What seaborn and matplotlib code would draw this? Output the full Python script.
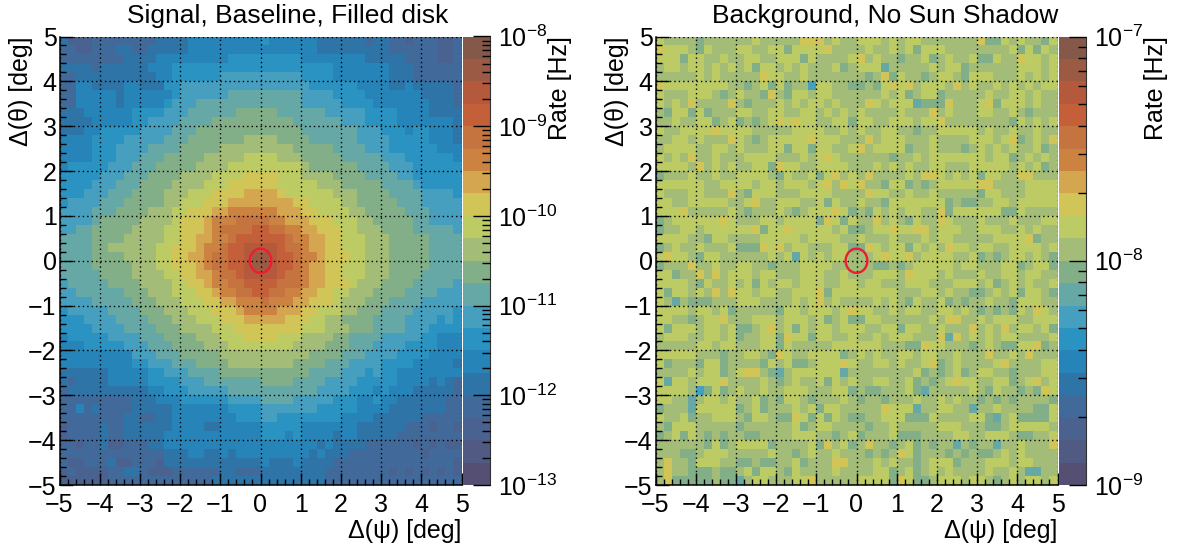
import numpy as np
import seaborn as sns
import matplotlib.pyplot as plt
from matplotlib.colors import ListedColormap, LogNorm
from matplotlib.patches import Circle
from matplotlib.ticker import NullFormatter

# colour band index of every cell, top row first (0-9, a-j = band 0-19 of the z scale)
signal_rows = [
    "42223 33333 33444 45555 55555 65555 55444 44434 43323 33223",
    "33223 33443 34444 45555 55555 55555 55444 44444 43333 33223",
    "33333 33344 44555 55555 56666 66666 55555 55544 44433 33223",
    "44443 44444 45556 66666 66666 66666 66665 55555 54443 33333",
    "33444 44444 44556 66666 77777 77777 66665 55555 54443 33333",
    "33554 44455 44466 77777 77777 77777 76666 66555 54454 44443",
    "33555 55455 55556 77777 78888 88888 77776 66655 55555 44443",
    "33555 55455 55567 77888 88888 88888 77777 66665 55555 54443",
    "44455 55556 66677 78888 88999 99888 88877 77766 66555 54444",
    "44445 55556 67777 88889 99999 99998 88888 77766 66555 55554",
    "44455 66666 77778 88999 99999 99999 88888 88777 66656 65554",
    "55556 66677 77788 89999 999aa aa999 98888 88777 76666 65554",
    "55556 66777 78888 99999 aaaaa aaaa9 99998 88877 76666 66555",
    "55556 66777 88899 999aa aaabb bbaaa 99999 88888 77766 66665",
    "56666 67778 88999 99aaa abbbb bbbbb a9999 99888 87776 66666",
    "66666 77788 89999 aaaab bbbcc ccbbb aaaa9 99988 88776 66666",
    "66667 77888 9999a aaabb bcccc ccbbb bbaaa 99999 88887 66666",
    "66677 78889 999aa abbbc cccdd ddcbb bbbba aa999 98888 77776",
    "67777 88899 999aa bbbcc cdddd ddddc cbbbb aa999 99888 77777",
    "77778 88999 9aaab bcccd deeee eeddd ccbbb baa99 99988 87777",
    "77778 99999 aaaab cccde eefff feedd dcccb bbaa9 99998 87777",
    "77889 9999a aaabb cccde ffffg gffee ddccc bbaaa 99998 88887",
    "88889 999aa aaabb ccdde efggg gggfe eddcc bbbaa a9999 98888",
    "88889 9aaaa aabbc ccdee fgghh hhgff eddcc bbbaa a9999 98888",
    "88889 999aa aabbc cddef fgghi ihggf eedcc cbbaa a9999 98888",
    "88889 9999a aabbc ccdef fgghi ihggf eddcc bbbaa a9999 98888",
    "88888 9999a aaabb ccdde ffghh hhgff eddcc bbbaa a9999 88888",
    "78888 89999 aaaab bccde effgg ggfff eddcc cbaaa 99998 88887",
    "77888 88899 9aaab bbccd eeffg gffee ddccb baaa9 99988 88777",
    "77778 88889 99aaa bbbcc ddeee feeed dcccb aaa99 98888 77777",
    "67777 78888 999aa abbbc ccdee eeddd ccbbb aa999 88887 77776",
    "66677 77888 8999a aabbb cccdd dddcc cbbaa 99998 88877 77676",
    "66667 77788 88999 aaaab bbccc ccccc bbbaa a9998 88877 76666",
    "56666 67777 88899 99aaa bbbcc ccbbb aaaa9 98888 77777 66555",
    "55566 66677 78889 999aa abbbb bbbba aaa99 98887 77766 66555",
    "55555 55557 77888 99999 aaaaa aaaaa a9999 88877 77666 65555",
    "55555 55556 67778 88999 9aaaa aaaa9 99988 87777 66665 55554",
    "44444 45555 56677 78888 99999 99999 98888 77767 66555 55555",
    "43444 45555 56666 77788 88888 99998 88877 77666 66555 54543",
    "34444 44444 45566 67777 78888 88888 88777 76665 65554 44443",
    "33333 33334 44555 66666 67777 88887 77776 66556 55444 44433",
    "33534 33334 44445 55555 56666 77777 77666 66555 54444 44433",
    "33333 33344 33445 55555 55666 77666 66666 55554 44444 33333",
    "23333 43344 44445 55544 55555 66666 55555 55444 44433 32332",
    "23333 43344 44455 55555 55555 66656 55554 55444 44333 33333",
    "33233 42233 34455 55555 55555 55555 55454 44433 33332 32322",
    "33333 33333 33344 45544 54555 55555 54544 43333 33333 23333",
    "32233 34223 33244 44444 44444 54445 44443 33333 33333 33332",
    "23222 23344 32223 33333 44333 44444 44433 33333 32323 23232",
    "22222 23333 33333 33334 44444 44444 44433 33333 33333 33333",
]

background_rows = [
    "baaaa 9aaaa aabaa aaacc cabaa bbbab abbaa aaaaa c99ba baa9b",
    "cbbba 9baaa bbaab b9bbb bcaaa abaab ab9bb baaaa aaaab 9b9ba",
    "bbb9b baaba abbaa bbb9b aaaab cabaa 9aab9 abaab 99baa cbbab",
    "abbab babab ab9bb ababa aab9a bbb8a aaaab abb9a aaaaa bbbab",
    "aaaaa babaa aaacb baaba aaaaa a9ac9 baa9a bba9b bbaaa babab",
    "cbbbb bbbba a9ab9 b9aa7 bbaa9 9a9bc bcabb bacab aabab ababb",
    "baaab bba9a baa9c a9bba bbaaa aaaba b9abb 9aaaa abaab babaa",
    "babac aaaac a9aaa babab babaa acbab bb899 9caaa bc9bb babaa",
    "a9bb9 b9aaa bbaab baabb ababa baaaa baaac abaaa bbaab a9aaa",
    "aabaa bb9ab 9a9ab cbcbb aabb9 bbaab bbabb caaaa aaaa9 babab",
    "baabb bbcbb bbaaa aabbb baaba baabb aa9aa bbbbb abaab aabaa",
    "aabba baaac ba9ab bbbbc bbbaa acabb baaab aaaab bbabc 9abac",
    "abbbb aabba baaab b9bb9 bbaab cabbb b9aab aaa9a babab aab9a",
    "babac aabaa abbbb aaaba bcbaa aaaa9 aabab bbbbb babb9 ababa",
    "bbbba cabab aabb9 cbbaa bbbba aabab abaab baaab bbbba bab9a",
    "9aaab aabaa bbbba 9baab 9bcab acaaa abacc babab 9bbaa ccaaa",
    "bbbbb baabb bbabb abbba bcacb caa9b b9a9a bbbbb ccaaa abbbb",
    "baaab baaac a9bbb aaabb bbaaa acbba abaab aaaaa 9bbaa abbbb",
    "bbaab bbbba abcaa bbbaa b9baa baa9b bbbbb b9a99 aabba bbbbb",
    "bbbca aaaab a9aaa ba9ab bbcb9 a9bab abbaa c9bbb bbb99 baaaa",
    "9abbb bbbcb aaabb abbbb 9cb9b aacab a9baa cbaaa baaab aaabb",
    "9aabb abbbb bbc9b bcbbb bbab9 9abbc bbcca bbbaa bbbaa babaa",
    "bbbba a9bba aaabb bbbab bbbaa baaab aaaba bbaaa aabbb bc9aa",
    "9abaa baaab 999cb cabba aabb9 9cbab b9bab acbba bbaab bbbab",
    "bcbba 9bbaa aaaab ab8ba babba aabcb bcabb bbaab 9a9ab baba9",
    "9aaac aabaa bbaa9 aaabb bbaaa aa99a 9abbb bbabb aaabb 9abb9",
    "bb9aa cacab bbabb aaabb baaba aabbb acbbb abaaa baabb abbaa",
    "bbbba 9baab ab9ba bbabb baabb abbaa abbba aabbb ab9ab abaab",
    "b9bba bacac bbabb aabbb c9bbb bbbbb aaabb abaa9 9abab 9bba9",
    "ba8a9 99aaa bbbaa aabab cabaa aabab a9baa b9a9a abaa9 bbbaa",
    "bbbba bbab9 aaaaa 9bbab bbabc bbaab abbaa bbaba 9a9a9 bacba",
    "bbaa9 abbca aabbb abbba b9ab9 9bbaa aaaab accaa babbb aabbb",
    "b9bbb abbab 99abc ab9ba bbabb baabb 9bbaa baaac abaca bbab9",
    "abbba abbab 9aabb 9cbb9 bbaab aabab bbaaa c8cab ababb aaaab",
    "aaaaa bbabb aaabb 9baaa aabbb bbbaa a99cb baaa9 aba99 bbc9a",
    "bbbbb aaa9a abba9 cbaab bbb9a babaa bbabb aabaa acaab acaaa",
    "b9aaa 9bb9a aaa9b ab99a bbbcb aabba baabc 9abaa aabca aaabb",
    "aaaab abb9a bcca9 8abbb bbb8a aaaaa aab9a 9ab9a bbaa9 aaabb",
    "b8bba bbbca aaaba 9abaa b9bab aabba ab9a9 abcbb aabb9 abcab",
    "bbbba 79b9a baaba abbba aabb9 a99aa ab98a aaaab a9baa 9a9cb",
    "bbaa8 abbab aab9a 9bba9 aaaba 9aa9a aabaa babaa 9a9a9 aaaa9",
    "9aaa8 bbbbb 9ab9a aabab 9bbaa aaacb bb8aa bbaa8 aabaa aa99b",
    "baab9 aabbb a9bba 99cb9 b9ba9 9aabb b999b aaaab b98ab 9999b",
    "a9bbb aaaaa 9aaaa aab9a bbaaa a9aab aaaaa bbbaa a99ab bbbba",
    "9ab9b a9a9a a99aa aabbb aa9ab 9aaab 999aa aabba abbba 99aab",
    "aaaaa a9b9a bbbb9 aaaab 9cab9 acaa9 ab9a9 aa8a9 aa8aa baaac",
    "aaa99 abbba aaaab aa9ab aabaa a9a9a cb9aa a9a9a 99aba baaaa",
    "acaa9 bbbaa 99a99 aab9a aacca aabab aa9ab bb9aa abbba bbaaa",
    "acaa9 99a99 ab9bb a9baa aabaa aabb9 ab9ab abaaa abaab a88aa",
    "ac999 99a99 8abba aabbc aaaaa bbbb9 cb99a bbbab ba9ab abbab",
]

band_colors = ["#544f73", "#505a83", "#4a6290", "#416a9b", "#2f74a7", "#2684b8", "#2b93c2",
               "#479fc0", "#66a8a5", "#82af87", "#a3bd78", "#bccb63", "#d0c556", "#d3a64f",
               "#cc8240", "#c6743f", "#c3603a", "#b5593d", "#9a5a44", "#85594a"]

deg_labels = ["\u22125", "\u22124", "\u22123", "\u22122", "\u22121", "0", "1", "2", "3", "4", "5"]
titles = ["Signal, Baseline, Filled disk", "Background, No Sun Shadow"]
title_x = [0.568, 0.571]
rate_range = [(-13, -8), (-9, -7)]
sun_radius_deg = 0.27

W, H = 1181, 545
sns.set_style("ticks", {"text.color": "k", "axes.labelcolor": "k", "xtick.color": "k", "ytick.color": "k"})
plt.rcParams['font.family'] = ['Liberation Sans', 'DejaVu Sans']
plt.rcParams['mathtext.fontset'] = 'custom'
plt.rcParams['mathtext.rm'] = 'Liberation Sans'
fs = 18

cmap = ListedColormap(band_colors)


def rates(rows, lo, hi):
    bands = np.array([[int(c, 20) for c in r.replace(" ", "")] for r in rows])
    return 10.0 ** (lo + (bands + 0.5) * (hi - lo) / 20)


def panel(fig, rows, left_px, i):
    lo, hi = rate_range[i]
    ax = fig.add_axes([left_px / W, 1 - 485 / H, 402 / W, 448.5 / H])
    cax = fig.add_axes([(left_px + 403.5) / W, 1 - 485 / H, 26.5 / W, 448.5 / H])
    sns.heatmap(rates(rows, lo, hi), ax=ax, cbar_ax=cax, cmap=cmap,
                norm=LogNorm(10.0 ** lo, 10.0 ** hi))

    # heatmap cells run 0..50, one axis tick every 5 cells = 1 deg
    ax.set_xticks(np.arange(0, 51, 5), deg_labels, rotation=0, fontsize=fs)
    ax.set_yticks(np.arange(0, 51, 5), deg_labels[::-1], rotation=0, fontsize=fs, va="center_baseline")
    ax.set_xticks(np.arange(0, 51), minor=True)
    ax.set_yticks(np.arange(0, 51), minor=True)
    ax.tick_params(which="major", direction="in", length=9, width=1, color="k")
    ax.tick_params(which="minor", direction="in", length=4.5, width=1, color="k")
    ax.tick_params(axis="x", which="major", pad=6)
    ax.tick_params(axis="y", which="major", pad=2)
    ax.grid(True, which="major", color="k", linestyle=(0, (1, 2.2)), linewidth=1)
    ax.set_axisbelow(False)
    for s in ["left", "bottom"]:
        ax.spines[s].set_visible(True)
        ax.spines[s].set_linewidth(1.1)
        ax.spines[s].set_color("k")

    r = sun_radius_deg * 5
    ax.add_patch(Circle((25, 25), r, fill=False, edgecolor="#ee1c2e", linewidth=1.7, zorder=5))

    ax.set_title(titles[i], fontsize=19, x=title_x[i], pad=10)
    ax.set_xlabel("\u0394(\u03c8) [deg]", fontsize=fs, loc="right", labelpad=1)
    ax.set_ylabel("\u0394(\u03b8) [deg]", fontsize=fs, loc="top")
    ax.yaxis.set_label_coords(-0.067, 1.0)

    # colour scale: log ticks inside the right edge
    dec = np.arange(lo, hi + 1)
    cax.set_yticks(10.0 ** dec, [r"$\mathregular{10^{%d}}$" % d for d in dec], fontsize=fs)
    minor = [m * 10.0 ** d for d in dec[:-1] for m in range(2, 10)]
    cax.set_yticks(minor, minor=True)
    cax.yaxis.set_minor_formatter(NullFormatter())
    cax.set_axisbelow(False)
    cax.tick_params(which="major", direction="in", length=12, width=1, right=True, left=False,
                    pad=6, color="k")
    cax.tick_params(which="minor", direction="in", length=6, width=1, right=True, left=False, color="k")
    cax.spines["right"].set_visible(True)
    cax.spines["right"].set_color("#333333")
    cax.set_ylabel("Rate [Hz]", fontsize=fs, loc="top")
    cax.yaxis.set_label_coords(3.22, 1.0)


fig = plt.figure(figsize=(W / 100, H / 100), dpi=100)
panel(fig, signal_rows, 59.5, 0)
panel(fig, background_rows, 655.5, 1)
fig.savefig("out.png", dpi=100)
